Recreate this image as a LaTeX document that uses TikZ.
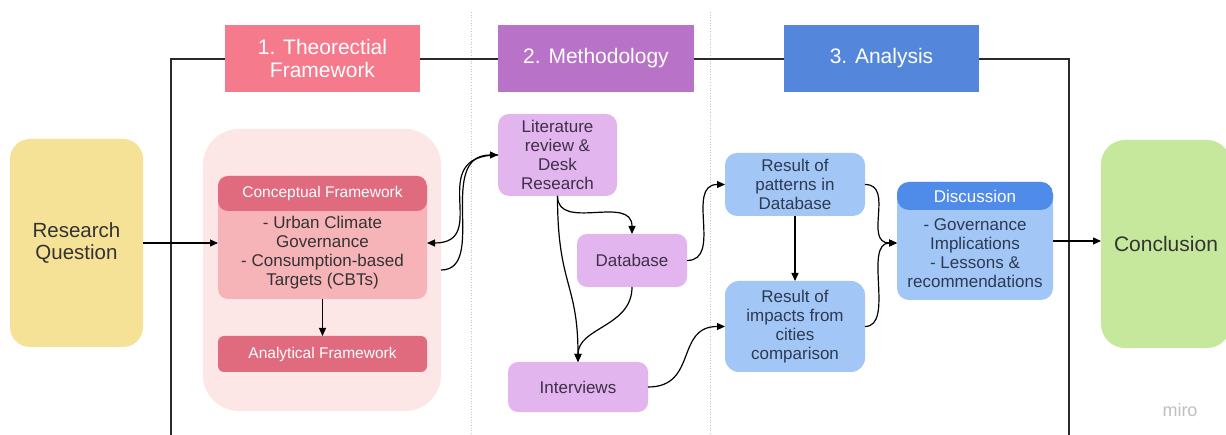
\documentclass[tikz,border=0pt]{standalone}
\usepackage{fontspec}
\setmainfont{Liberation Sans}
\usetikzlibrary{arrows.meta}

\definecolor{rqfill}{HTML}{F5E296}
\definecolor{concfill}{HTML}{C5E89C}
\definecolor{hdrone}{HTML}{F57A8B}
\definecolor{hdrtwo}{HTML}{B873C9}
\definecolor{hdrthree}{HTML}{5487DB}
\definecolor{tfpale}{HTML}{FDE6E6}
\definecolor{tfdark}{HTML}{E06A7E}
\definecolor{tflight}{HTML}{F7B4B8}
\definecolor{mfill}{HTML}{E2B5EF}
\definecolor{afill}{HTML}{A2C6F6}
\definecolor{adark}{HTML}{4F8BE8}
\definecolor{ink}{HTML}{333333}
\definecolor{inkp}{HTML}{3F2F47}
\definecolor{inkb}{HTML}{2C3A52}
\definecolor{frameline}{HTML}{2A2A2A}

\tikzset{
  box/.style={inner sep=0pt, outer sep=0pt, align=center},
  header/.style={box, font=\fontsize{21}{23}\selectfont, text=white},
  body/.style={font=\fontsize{17}{19}\selectfont, align=center, inner sep=0pt},
  tabtext/.style={font=\fontsize{15.5}{18}\selectfont, text=white, inner sep=0pt},
  link/.style={draw=black, line width=1.2pt, -{Triangle[length=8pt,width=7pt]}},
  sep/.style={draw=gray!45, line width=0.7pt, dotted},
}

\begin{document}
\begin{tikzpicture}[x=1pt,y=-1pt]
\useasboundingbox (0,0) rectangle (1226,435);
\fill[white] (0,0) rectangle (1226,435);

% column separators
\draw[sep] (471.5,12) -- (471.5,435);
\draw[sep] (710,12) -- (710,435);

% open frame around the three phases
\coordinate (fbl) at (171,435);
\coordinate (ftl) at (171,59);
\coordinate (ftr) at (1069,59);
\coordinate (fbr) at (1069,435);
\draw[frameline, line width=1.2pt] (fbl) -- (ftl) -- (ftr) -- (fbr);

% phase headers
\node[header, fill=hdrone, minimum width=195, minimum height=67] (h1) at (322.5,58.5) {1. Theorectial\\Framework};
\node[header, fill=hdrtwo, minimum width=196, minimum height=67] (h2) at (596,58.5) {2. Methodology};
\node[header, fill=hdrthree, minimum width=195, minimum height=67] (h3) at (881.5,58.5) {3. Analysis};

% start and end
\node[box, fill=rqfill, rounded corners=20, minimum width=133, minimum height=208,
      font=\fontsize{20.5}{22.5}\selectfont, text=ink] (rq) at (76.5,243) {Research\\Question};
\node[box, fill=concfill, rounded corners=24, minimum width=130, minimum height=208,
      font=\fontsize{21}{23}\selectfont, text=ink] (concl) at (1166,244) {Conclusion};

% theoretical framework
\node[box, fill=tfpale, rounded corners=36, minimum width=238, minimum height=282] (tf) at (322,270) {};
\node[box, fill=tflight, rounded corners=10, minimum width=209, minimum height=123,
      path picture={\fill[tfdark] (path picture bounding box.north west) rectangle ([yshift=-35pt]path picture bounding box.north east);}] (concept) at (322.5,237.5) {};
\node[tabtext] (concepthead) at (322.5,193) {Conceptual Framework};
\node[body, text=ink] (conceptbody) at (322.5,253) {- Urban Climate\\Governance\\- Consumption-based\\Targets (CBTs)};
\node[box, fill=tfdark, rounded corners=6, minimum width=209, minimum height=36,
      font=\fontsize{15.5}{18}\selectfont, text=white] (analytic) at (322.5,354) {Analytical Framework};

% methodology
\node[box, fill=mfill, rounded corners=11, minimum width=119, minimum height=82,
      font=\fontsize{17}{19}\selectfont, text=inkp] (lit) at (557.5,155) {Literature\\review \&\\Desk\\Research};
\node[box, fill=mfill, rounded corners=10, minimum width=110, minimum height=53,
      font=\fontsize{17}{19}\selectfont, text=inkp] (db) at (632,260.5) {Database};
\node[box, fill=mfill, rounded corners=10, minimum width=140, minimum height=50,
      font=\fontsize{17}{19}\selectfont, text=inkp] (iv) at (578,387) {Interviews};

% analysis
\node[box, fill=afill, rounded corners=12, minimum width=140, minimum height=63,
      font=\fontsize{17}{19}\selectfont, text=inkb] (pat) at (795,184.5) {Result of\\patterns in\\Database};
\node[box, fill=afill, rounded corners=14, minimum width=140, minimum height=91,
      font=\fontsize{17}{19}\selectfont, text=inkb] (imp) at (795,326.5) {Result of\\impacts from\\cities\\comparison};
\node[box, fill=afill, rounded corners=12, minimum width=156, minimum height=118,
      path picture={\fill[adark] (path picture bounding box.north west) rectangle ([yshift=-28pt]path picture bounding box.north east);}] (disc) at (975,241) {};
\node[font=\fontsize{17}{19}\selectfont, text=white, inner sep=0pt] (dischead) at (975,196) {Discussion};
\node[body, text=inkb] (discbody) at (975,253) {- Governance\\Implications\\- Lessons \&\\recommendations};

% watermark
\node[font=\fontsize{18}{20}\selectfont, text=gray!50, inner sep=0pt] (wm) at (1180,410) {miro};

% connectors
\draw[link] (rq.east) -- (concept.west |- rq.east);
\draw[link] (concept.south) -- (analytic.north);
\draw[link] (tf.east) .. controls +(47,0) and +(-63,0) .. (lit.west);
\draw[link] (lit.west) .. controls +(-75,0) and +(65,0) .. ([yshift=-5.5pt]concept.east);
\draw[link] (lit.south) .. controls +(0,36) and +(0,-40) .. (db.north);
\draw[link] (lit.south) .. controls +(0,90) and +(0,-80) .. (iv.north);
\draw[link] (db.south) .. controls +(0,40) and +(0,-35) .. (iv.north);
\draw[link] (db.east) .. controls +(36,0) and +(-40,0) .. (pat.west);
\draw[link] (iv.east) .. controls +(50,0) and +(-50,0) .. (imp.west);
\draw[link] (pat.south) -- (imp.north);
\draw[link] (pat.east) .. controls +(30,0) and +(-34,0) .. ([yshift=-2pt]disc.west);
\draw[link] (imp.east) .. controls +(30,0) and +(-34,0) .. ([yshift=-2pt]disc.west);
\draw[link] (disc.east) -- (concl.west |- disc.east);
\end{tikzpicture}
\end{document}
